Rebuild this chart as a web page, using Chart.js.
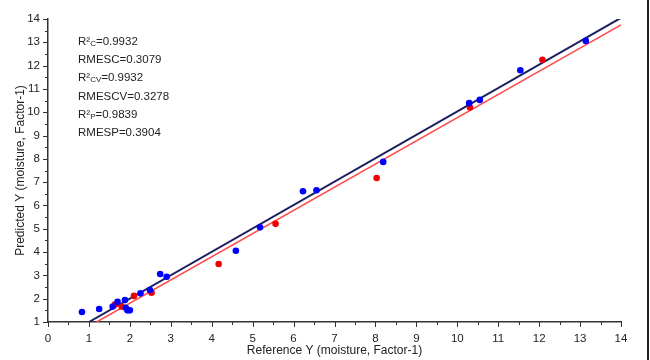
<!DOCTYPE html>
<html><head><meta charset="utf-8">
<script src="https://cdn.jsdelivr.net/npm/chart.js@4.4.0/dist/chart.umd.min.js"></script>
<style>
html,body{margin:0;padding:0;background:#fff;}
#wrap{position:relative;width:650px;height:360px;}
#wrap:after{content:"";position:absolute;right:1px;top:0;width:2px;height:360px;background:#222;}
</style></head>
<body><div id="wrap"><canvas id="c" width="650" height="360"></canvas></div>
<script>
// Calibration set (blue)
const calRef  = [0.83, 1.25, 1.58, 1.70, 1.88, 1.90, 1.94, 2.00, 2.26, 2.49, 2.74, 2.90, 4.59, 5.18, 6.23, 6.56, 8.19, 10.29, 10.55, 11.54, 13.14];
const calPred = [1.43, 1.56, 1.66, 1.87, 1.94, 1.61, 1.50, 1.50, 2.23, 2.37, 3.06, 2.94, 4.06, 5.06, 6.61, 6.65, 7.87, 10.39, 10.53, 11.80, 13.06];
// Prediction set (red)
const predRef  = [1.64, 1.80, 2.10, 2.53, 4.17, 5.56, 8.03, 10.31, 12.08];
const predPred = [1.76, 1.66, 2.12, 2.26, 3.49, 5.21, 7.18, 10.20, 12.25];
// Regression lines (end points)
const calLineX = [1.0, 14];
const calLineY = [1.0, 14.05];
const predLineX = [1.19, 14];
const predLineY = [1.0, 13.75];
// Statistics text
const statNames = ["R²", "RMESC", "R²", "RMESCV", "R²", "RMESP"];
const statSubs  = ["C", "", "CV", "", "P", ""];
const statValues = ["0.9932", "0.3079", "0.9932", "0.3278", "0.9839", "0.3904"];
// Axes
const xMin = 0, xMax = 14, yMin = 1, yMax = 14;
const xTitle = "Reference Y (moisture, Factor-1)";
const yTitle = "Predicted Y (moisture, Factor-1)";

const zip = (a, b) => a.map((v, i) => ({x: v, y: b[i]}));
const FONT = "'Liberation Sans', Arial, sans-serif";

const tickPlugin = {
  id: 'ticksAndStats',
  afterDraw(chart) {
    const ctx = chart.ctx;
    const xs = chart.scales.x, ys = chart.scales.y;
    const ca = chart.chartArea;
    ctx.save();
    ctx.strokeStyle = '#333';
    ctx.lineWidth = 1;
    ctx.beginPath();
    for (let v = xMin; v <= xMax + 1e-9; v += 0.5) {
      const px = Math.round(xs.getPixelForValue(v)) + 0.5;
      const len = Number.isInteger(v) ? 5 : 3;
      ctx.moveTo(px, ca.bottom); ctx.lineTo(px, ca.bottom + len);
    }
    for (let v = yMin; v <= yMax + 1e-9; v += 0.5) {
      const py = Math.round(ys.getPixelForValue(v)) + 0.5;
      const len = Number.isInteger(v) ? 5 : 3;
      ctx.moveTo(ca.left, py); ctx.lineTo(ca.left - len, py);
    }
    ctx.stroke();
    // statistics block
    ctx.fillStyle = '#222';
    ctx.textBaseline = 'alphabetic';
    ctx.textAlign = 'left';
    let y0 = 45;
    for (let i = 0; i < statNames.length; i++) {
      let x = 78;
      const y = y0 + i * 18.2;
      ctx.font = '11.5px ' + FONT;
      ctx.fillText(statNames[i], x, y);
      x += ctx.measureText(statNames[i]).width;
      if (statSubs[i]) {
        ctx.font = '8px ' + FONT;
        ctx.fillText(statSubs[i], x, y + 1);
        x += ctx.measureText(statSubs[i]).width;
      }
      ctx.font = '11.5px ' + FONT;
      ctx.fillText('=' + statValues[i], x, y);
    }
    ctx.restore();
  }
};

new Chart(document.getElementById('c'), {
  type: 'scatter',
  data: {
    datasets: [
      {label: 'Calibration', data: zip(calRef, calPred), backgroundColor: '#0000ff', borderColor: '#0000ff', pointRadius: 3.3, pointBorderWidth: 0, order: 1},
      {label: 'Prediction', data: zip(predRef, predPred), backgroundColor: '#f00000', borderColor: '#f00000', pointRadius: 3.3, pointBorderWidth: 0, order: 2},
      {label: 'Cal fit', data: zip(calLineX, calLineY), showLine: true, pointRadius: 0, borderColor: '#1b1f5e', borderWidth: 2, order: 3},
      {label: 'Pred fit', data: zip(predLineX, predLineY), showLine: true, pointRadius: 0, borderColor: '#ff4a4a', borderWidth: 1.5, order: 4}
    ]
  },
  options: {
    responsive: false,
    animation: false,
    devicePixelRatio: 1,
    layout: {padding: {left: 0, top: 19, right: 29, bottom: 0}},
    plugins: {legend: {display: false}, tooltip: {enabled: false}},
    scales: {
      x: {
        type: 'linear', min: xMin, max: xMax,
        grid: {display: false, drawTicks: true, tickLength: 5},
        border: {display: true, color: '#333', width: 1.5},
        ticks: {stepSize: 1, autoSkip: false, maxRotation: 0, padding: 5, color: '#222', font: {family: FONT, size: 11.5}},
        title: {display: true, text: xTitle, color: '#222', font: {family: FONT, size: 12}, padding: {top: 0, bottom: 2}},
        afterFit(s) { s.height = 38; }
      },
      y: {
        type: 'linear', min: yMin, max: yMax,
        grid: {display: false, drawTicks: true, tickLength: 5},
        border: {display: true, color: '#333', width: 1.5},
        ticks: {stepSize: 1, autoSkip: false, padding: 3, color: '#222', font: {family: FONT, size: 11.5}},
        title: {display: true, text: yTitle, color: '#222', font: {family: FONT, size: 12}, padding: {top: 13, bottom: 0}},
        afterFit(s) { s.width = 48; }
      }
    }
  },
  plugins: [tickPlugin]
});
</script>
</body></html>
